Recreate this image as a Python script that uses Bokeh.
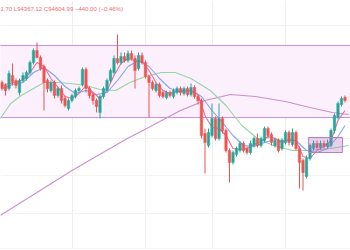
from bokeh.plotting import figure
from bokeh.models import Range1d, FixedTicker, Label
from bokeh.embed import file_html
from bokeh.resources import INLINE

# ---- data ----
opens = [95320, 95200, 95080, 95600, 95400, 94920, 95400, 95480, 95720, 96120,
         96600, 96320, 95960, 95400, 95000, 95320, 94800, 95080, 94680, 94280,
         94600, 94760, 95000, 95240, 95840, 95080, 94840, 94600, 94120, 94760,
         95000, 95400, 95720, 96280, 96120, 96360, 96200, 96480, 96280, 95880,
         96400, 96120, 95560, 95320, 95000, 95240, 94920, 94720, 94920, 94760,
         94920, 95080, 94880, 95080, 94840, 95120, 94760, 94600, 93280, 92800,
         93200, 93880, 93080, 93880, 93400, 92600, 92120, 92440, 92600, 92880,
         92680, 92520, 92800, 93080, 92800, 93000, 93480, 93240, 92800, 93000,
         92680, 92920, 93320, 92840, 93320, 92680, 92200, 91560, 92280, 92680,
         92880, 92720, 92880, 92760, 92800, 93400, 93920, 94440, 94720]
closes = [95080, 95000, 95680, 95320, 95200, 95400, 95600, 95720, 96120, 96600,
          96320, 95880, 95320, 95080, 95320, 94800, 95080, 94600, 94400, 94600,
          94800, 95000, 95080, 95840, 95080, 94800, 94600, 94360, 94760, 95080,
          95400, 95800, 96280, 96120, 96360, 96200, 96480, 96280, 95800, 96400,
          96120, 95560, 95320, 95080, 95240, 94800, 94760, 94920, 94800, 95000,
          95080, 94920, 95080, 94840, 95120, 94760, 94600, 93200, 92920, 93320,
          93880, 93080, 93880, 93400, 92600, 92120, 92520, 92680, 92880, 92600,
          92520, 92880, 93080, 92800, 93080, 93480, 93200, 92920, 93000, 92600,
          93000, 93320, 92920, 93320, 92680, 92120, 91720, 92280, 92800, 92880,
          92720, 92880, 92760, 92880, 93400, 94000, 94480, 94680, 94600]
highs = [95400, 95280, 95800, 96080, 95480, 95480, 95720, 95800, 96200, 96680,
         96920, 96400, 96040, 95480, 95400, 95400, 95160, 95200, 94800, 94680,
         94880, 95080, 95160, 95920, 95920, 95160, 94920, 94680, 94840, 95160,
         95480, 95880, 96400, 97240, 96520, 96520, 96600, 96600, 96400, 96520,
         96520, 96200, 95640, 95400, 95320, 95320, 95000, 95000, 95000, 95080,
         95160, 95160, 95160, 95160, 95280, 95200, 94840, 94680, 93480, 93480,
         94480, 93960, 94480, 93960, 93480, 92680, 92600, 92760, 92960, 92960,
         92760, 93000, 93160, 93280, 93160, 93560, 93560, 93320, 93120, 93080,
         93080, 93400, 93400, 93480, 93400, 92760, 92280, 92400, 92880, 93000,
         93000, 93000, 93000, 93040, 93480, 94080, 94560, 94760, 94800]
lows = [95000, 94800, 95000, 95200, 95080, 94800, 95320, 95400, 95640, 96040,
        96280, 95800, 94200, 94920, 94920, 94680, 94720, 94480, 94320, 94200,
        94520, 94680, 94920, 95160, 94920, 94680, 94440, 94120, 93880, 94680,
        94920, 95320, 95640, 96040, 96040, 96120, 96120, 96200, 95080, 95800,
        96040, 95480, 93920, 95000, 94920, 94720, 94680, 94640, 94720, 94680,
        94840, 94800, 94800, 94760, 94760, 94680, 94440, 93080, 91680, 92720,
        93120, 93000, 93000, 93280, 92520, 91320, 92040, 92360, 92520, 92520,
        92440, 92440, 92720, 92720, 92720, 92920, 93080, 92800, 92720, 92520,
        92600, 92840, 92800, 92760, 92600, 91080, 91000, 91480, 92200, 92600,
        92640, 92640, 92680, 92680, 92720, 93280, 93840, 94360, 94520]

ma_fast_x = [0, 2, 4, 6, 8, 10, 12, 14, 16, 18, 20, 22, 24, 26, 28, 30, 32, 34, 36,
             38, 40, 42, 44, 46, 48, 50, 52, 54, 56, 58, 60, 62, 64, 66, 68, 70, 72,
             74, 76, 78, 80, 82, 84, 86, 88, 90, 92, 94, 96, 98]
ma_fast_y = [95200, 95280, 95320, 95440, 95720, 96120, 95960, 95480, 95120, 94760,
             94680, 94880, 95200, 94920, 94680, 95000, 95600, 96080, 96280, 96200,
             96160, 95800, 95320, 95000, 94880, 94960, 95000, 95000, 94840, 94000,
             93520, 93480, 93200, 92680, 92640, 92680, 92840, 92960, 93160, 93080,
             92920, 93040, 93000, 92360, 92280, 92600, 92760, 93000, 93800, 94200]

ma_mid_x = [0, 3, 6, 9, 12, 15, 18, 21, 24, 27, 30, 33, 36, 39, 42, 45, 48, 51, 54,
            57, 60, 63, 66, 69, 72, 75, 78, 81, 84, 87, 90, 93, 96, 98]
ma_mid_y = [95080, 95240, 95320, 95720, 95920, 95600, 95160, 94880, 95000, 94840,
            94920, 95400, 95960, 96200, 95960, 95480, 95080, 94960, 95000, 94760,
            94200, 93720, 93200, 92800, 92760, 92920, 93040, 93000, 93000, 92600,
            92520, 92680, 93160, 93600]

ma_slow_x = [-0.5, 2.5, 5.5, 8, 12, 16, 19.5, 24, 28, 32.5, 36.5, 41, 45.5, 49.5, 54,
             59.5, 64, 68.5, 73, 77.5, 83, 87.5, 94, 99]
ma_slow_y = [93880, 94480, 94800, 95000, 95320, 95320, 95280, 95200, 95040, 95000,
             95320, 95560, 95720, 95720, 95480, 95000, 94400, 93600, 93080, 92800,
             92600, 92600, 92680, 92800]

ma_long_x = [-0.5, 20, 35.3, 42.4, 51, 58, 65.3, 72.4, 81, 88, 94.4, 99]
ma_long_y = [90000, 91800, 93040, 93560, 94200, 94600, 94840, 94760, 94560, 94320,
             94120, 94040]

range_top = [96800]
range_bottom = [93920]
zone_left = [87.6]
zone_right = [97.3]
zone_top = [93120]
zone_bottom = [92520]

time_ticks = [20, 41, 60, 81]
price_ticks = [97600, 96100, 94600, 93100, 91600, 90100]

header = "1.70 L94367.12 C94604.99 \u2212440.00 (\u22120.46%)"

# ---- chart ----
UP = "#26a69a"
DOWN = "#ef5350"

n = len(closes)
idx = list(range(n))
col = [UP if c >= o else DOWN for o, c in zip(opens, closes)]
top_b = [max(o, c) for o, c in zip(opens, closes)]
bot_b = [min(o, c) for o, c in zip(opens, closes)]

p = figure(width=350, height=249, output_backend="svg", toolbar_location=None,
           x_range=Range1d(-0.4286, 99.5714), y_range=Range1d(88680, 98600),
           x_axis_location=None, y_axis_location=None)
p.min_border = 0
p.min_border_bottom = 1
p.border_fill_color = "#dcdcdc"
p.background_fill_color = "white"
p.outline_line_color = None

p.xgrid.ticker = FixedTicker(ticks=time_ticks)
p.ygrid.ticker = FixedTicker(ticks=price_ticks)
p.xgrid.grid_line_color = "#eeeeee"
p.ygrid.grid_line_color = "#f3f3f3"

# big range box
p.quad(left=[-5], right=[105], top=range_top, bottom=range_bottom,
       fill_color="#fbf0fb", fill_alpha=1, line_color=None)
p.segment(x0=[-5, -5], x1=[105, 105], y0=range_top + range_bottom,
          y1=range_top + range_bottom, line_color="#d08ee0", line_width=1.2)

# moving averages
p.line(ma_long_x, ma_long_y, line_color="#cc8fcc", line_width=1.1)
p.line(ma_slow_x, ma_slow_y, line_color="#93d6a6", line_width=1.1)
p.line(ma_mid_x, ma_mid_y, line_color="#86a2f2", line_width=1.1)
p.line(ma_fast_x, ma_fast_y, line_color="#f06a9a", line_width=1.1)

# candles
p.segment(x0=idx, x1=idx, y0=highs, y1=lows, line_color=col, line_width=1)
p.vbar(x=idx, width=0.7, top=top_b, bottom=bot_b, fill_color=col, line_color=col,
       line_width=0.5)

# small consolidation box
p.quad(left=zone_left, right=zone_right, top=zone_top, bottom=zone_bottom,
       fill_color="#b06ac0", fill_alpha=0.3, line_color="#b67cc6", line_width=1)

p.add_layout(Label(x=-0.4286, y=98280, text=header, text_font_size="6px",
                   text_color="#f06a72", text_baseline="middle",
                   text_font="Liberation Sans"))

open("out.html", "w").write(file_html(p, INLINE))
